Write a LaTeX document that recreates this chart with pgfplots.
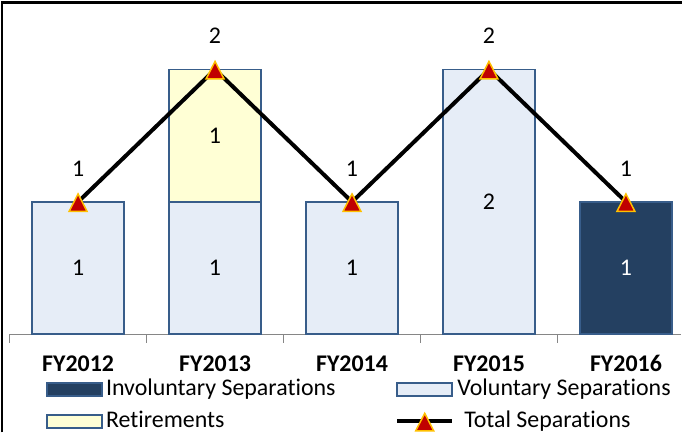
\documentclass[border=0pt]{standalone}
\usepackage{fontspec}
\setmainfont{Carlito}[RawFeature={-liga;-clig;-dlig}]
\usepackage{pgfplots}
\pgfplotsset{compat=1.18}
\definecolor{invol}{RGB}{36,64,97}
\definecolor{volfill}{RGB}{230,237,247}
\definecolor{barline}{RGB}{56,93,138}
\definecolor{retfill}{RGB}{255,255,213}
\definecolor{axgray}{RGB}{134,134,134}
\definecolor{mred}{RGB}{192,0,0}
\definecolor{morange}{RGB}{255,192,0}
\pgfdeclareplotmark{exceltri}{%
 \pgfpathmoveto{\pgfqpoint{0pt}{8pt}}%
 \pgfpathlineto{\pgfqpoint{9pt}{-9.5pt}}%
 \pgfpathlineto{\pgfqpoint{-9pt}{-9.5pt}}%
 \pgfpathclose\pgfusepathqfillstroke}
\newcommand{\bigf}{\fontsize{24}{28}\selectfont}
\pgfplotsset{
  barleg/.style={legend image code/.code={\draw[##1] (0pt,-6.5pt) rectangle (55pt,6.5pt);}},
  lineleg/.style={legend image code/.code={%
    \draw[black, line width=4pt] (0pt,0pt) -- (55pt,0pt);
    \filldraw[fill=mred, draw=morange, line width=1.5pt] (27.5pt,8pt) -- (36.5pt,-9.5pt) -- (18.5pt,-9.5pt) -- cycle;}},
  common/.style={
    at={(8.3pt,98.3pt)}, anchor=south west,
    scale only axis, width=673.75pt, height=332.5pt,
    xmin=-0.5, xmax=4.4, ymin=0, ymax=2.5,
    enlargelimits=false, clip=false, font=\bigf},
  totline/.style={draw=black, line width=4pt,
    mark=exceltri, mark options={fill=mred, draw=morange, line width=1.5pt, solid}},
}
\begin{document}
\begin{tikzpicture}
\begin{axis}[
  common,
  ybar stacked, bar width=0.67,
  axis x line*=bottom, axis y line=none,
  axis line style={draw=axgray, line width=1pt},
  xtick={0,1,2,3,4},
  xticklabels={FY2012,FY2013,FY2014,FY2015,FY2016},
  major tick length=0pt,
  xtick align=outside,
  extra x ticks={-0.5,0.5,1.5,2.5,3.5},
  extra x tick labels={},
  extra x tick style={major tick length=8.3pt, tick style={draw=axgray, line width=1pt}},
  xticklabel style={font=\bigf\bfseries, anchor=base, yshift=-37pt, inner sep=0pt},
  legend columns=2,
  legend cell align=left,
  legend style={at={(axis description cs:0.0545,-0.1362)}, anchor=north west,
    draw=none, fill=none, inner sep=0pt, outer sep=0pt,
    nodes={inner sep=0pt, text height=16pt, text depth=4pt, font=\bigf},
    column sep=3.25pt, row sep=12pt,
    /tikz/every even column/.append style={column sep=60pt}},
]
\addplot[fill=invol, draw=barline, line width=1.8pt, barleg]
  coordinates {(0,0) (1,0) (2,0) (3,0) (4,1)};
\addlegendentry{Involuntary Separations}
\addplot[fill=volfill, draw=barline, line width=1.8pt, barleg]
  coordinates {(0,1) (1,1) (2,1) (3,2) (4,0)};
\addlegendentry{Voluntary Separations}
\addplot[fill=retfill, draw=barline, line width=1.8pt, barleg]
  coordinates {(0,0) (1,1) (2,0) (3,0) (4,0)};
\addlegendentry{Retirements}
\addlegendimage{lineleg}
\addlegendentry{\hspace*{7pt}Total Separations}
\end{axis}
\begin{axis}[common, hide axis]
\addplot[totline, sharp plot,
  nodes near coords, point meta=explicit symbolic,
  every node near coord/.append style={anchor=center, yshift=33.5pt, text=black, font=\bigf}]
  coordinates {(0,1)[1] (1,2)[2] (2,1)[1] (3,2)[2] (4,1)[1]};
\addplot[only marks, mark=none,
  nodes near coords, point meta=explicit symbolic,
  every node near coord/.append style={anchor=center, text=black, font=\bigf}]
  coordinates {(0,0.5)[1] (1,0.5)[1] (1,1.5)[1] (2,0.5)[1] (3,1)[2]};
\addplot[only marks, mark=none,
  nodes near coords, point meta=explicit symbolic,
  every node near coord/.append style={anchor=center, text=white, font=\bigf}]
  coordinates {(4,0.5)[1]};
\end{axis}
\pgfresetboundingbox
\path (0,0) rectangle (683pt,433pt);
\draw[line width=2.7pt] (0,431.65pt) -- (683pt,431.65pt);
\draw[line width=2pt] (1pt,0) -- (1pt,433pt);
\end{tikzpicture}
\end{document}
